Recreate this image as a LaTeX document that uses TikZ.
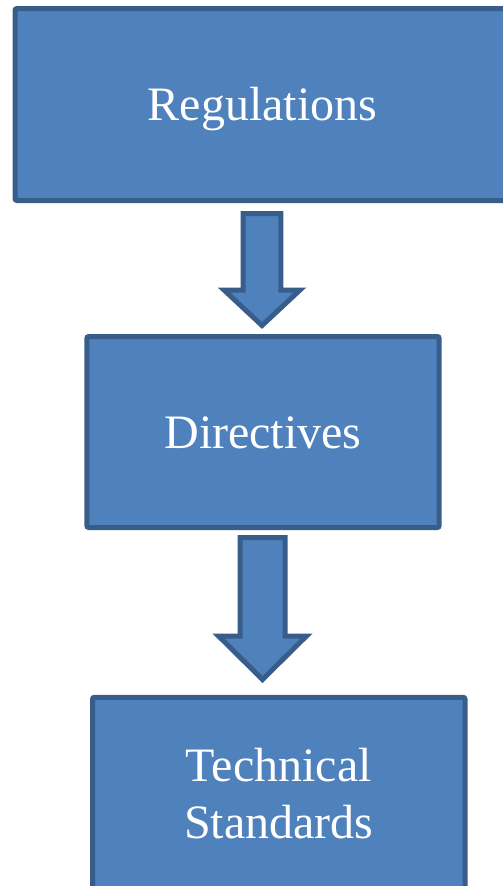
\documentclass[tikz,border=0pt]{standalone}
\usepackage{fontspec}
\setmainfont{Liberation Serif}
\definecolor{boxfill}{HTML}{4F81BD}
\definecolor{boxline}{HTML}{385D8A}
\begin{document}
\begin{tikzpicture}[x=1pt,y=-1pt,
  box/.style={draw=boxline, fill=boxfill, line width=5pt, rounded corners=2pt,
    text=white, font=\fontsize{48}{56.6}\selectfont, inner sep=0pt,
    text height=32pt, text depth=0pt, align=center},
  blockarrow/.style={draw=boxline, fill=boxfill, line width=5pt, line join=miter}]
\useasboundingbox (0,0) rectangle (503,886);
\node[box, minimum width=495pt, minimum height=192pt] (reg) at (262.5,104.5) {Regulations};
\node[box, minimum width=352.4pt, minimum height=191pt] (dir) at (263,432) {Directives};
\node[box, minimum width=372.5pt, minimum height=193.5pt, text height=88.6pt, text depth=0pt] (tech) at (278.75,794) {Technical\\Standards};
% block arrows
\draw[blockarrow] (243.2,213.5) -- (280.8,213.5) -- (280.8,290) -- (300,290)
  -- (262,325.5) -- (224,290) -- (243.2,290) -- cycle;
\draw[blockarrow] (240,537.5) -- (285,537.5) -- (285,636) -- (306.5,636)
  -- (262.5,679.5) -- (218.5,636) -- (240,636) -- cycle;
\end{tikzpicture}
\end{document}
